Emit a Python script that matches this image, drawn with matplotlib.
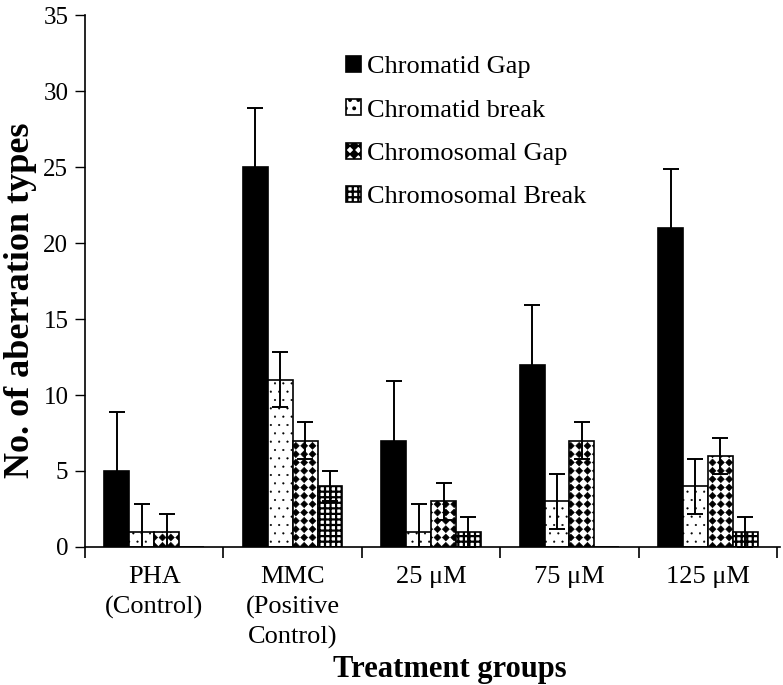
import matplotlib.pyplot as plt
import matplotlib.hatch as mhatch
from matplotlib.path import Path
import numpy as np

plt.rcParams['font.family'] = ['Liberation Serif', 'DejaVu Serif']
plt.rcParams['hatch.linewidth'] = 1.0


# filled diamonds on a square grid, used in place of the 'O' hatch
class Diamonds(mhatch.HatchPatternBase):
    size = 0.42

    def __init__(self, hatch, density):
        self.n = hatch.count('O') * density
        self.num_vertices = self.n * self.n * 5

    def set_vertices_and_codes(self, vertices, codes):
        n = self.n
        r = self.size / n
        shape = np.array([[0, r], [-r, 0], [0, -r], [r, 0], [0, r]])
        k = 0
        for i in range(n):
            for j in range(n):
                c = np.array([(i + 0.5) / n, (j + 0.5) / n])
                vertices[k:k + 5] = shape + c
                codes[k:k + 5] = [Path.MOVETO, Path.LINETO, Path.LINETO,
                                  Path.LINETO, Path.CLOSEPOLY]
                k += 5


mhatch._hatch_types = [Diamonds if t is mhatch.LargeCircles else t
                       for t in mhatch._hatch_types]

groups = ['PHA\n(Control)', 'MMC\n(Positive\nControl)', '25 μM', '75 μM', '125 μM']
series = ['Chromatid Gap', 'Chromatid break', 'Chromosomal Gap', 'Chromosomal Break']

chromatid_gap = [5, 25, 7, 12, 21]
chromatid_gap_err = [3.9, 3.9, 3.9, 3.9, 3.9]
chromatid_break = [1, 11, 1, 3, 4]
chromatid_break_err = [1.8, 1.8, 1.8, 1.8, 1.8]
chromosomal_gap = [1, 7, 3, 7, 6]
chromosomal_gap_err = [1.2, 1.2, 1.2, 1.2, 1.2]
chromosomal_break = [0, 4, 1, 0, 1]
chromosomal_break_err = [0, 1.0, 1.0, 0, 1.0]

values = [chromatid_gap, chromatid_break, chromosomal_gap, chromosomal_break]
errors = [chromatid_gap_err, chromatid_break_err, chromosomal_gap_err, chromosomal_break_err]
styles = [
    dict(color='black', hatch=None, hlw=1.0),
    dict(color='white', hatch='..', hlw=0.3),
    dict(color='white', hatch='OO', hlw=0.4),
    dict(color='white', hatch='+++', hlw=1.6),
]

fig = plt.figure(figsize=(7.83, 6.85), dpi=100)
ax = fig.add_axes([0.1086, 0.2015, 0.8874, 0.7765])

x = np.arange(len(groups))
w = 0.18
for i, (vals, errs, st) in enumerate(zip(values, errors, styles)):
    pos = x + (i - 1.5) * w
    errs = [e if e > 0 else np.nan for e in errs]
    plt.rcParams['hatch.linewidth'] = st['hlw']
    bars = ax.bar(pos, vals, w, color=st['color'], edgecolor='black', linewidth=1.2,
                  hatch=st['hatch'], label=series[i], zorder=2)
    for p in bars:
        if hasattr(p, 'set_hatch_linewidth'):
            p.set_hatch_linewidth(st['hlw'])
    ax.errorbar(pos, vals, yerr=errs, fmt='none', ecolor='black',
                elinewidth=1.4, capsize=6, capthick=1.4, zorder=3)

ax.set_xlim(-0.5, len(groups) - 0.5 + 0.02)
ax.set_ylim(0, 35)
ax.set_yticks(np.arange(0, 36, 5))
ax.set_xticks(x)
ax.set_xticklabels(groups, fontsize=19, va='top', linespacing=1.4)
ax.set_xticks(np.arange(-0.5, len(groups), 1.0), minor=True)
ax.tick_params(axis='x', which='major', length=0, pad=14)
ax.tick_params(axis='x', which='minor', length=8, width=1.2, direction='out')
ax.tick_params(axis='y', labelsize=18, length=7, width=1.0, pad=5)
for s in ['top', 'right']:
    ax.spines[s].set_visible(False)
ax.spines['left'].set_linewidth(1.2)
ax.spines['bottom'].set_linewidth(1.2)

ax.set_xlabel('Treatment groups', fontsize=22, fontweight='bold')
ax.xaxis.set_label_coords((450 - 85) / 695, -(655 - 547) / 532)
ax.set_ylabel('No. of aberration types', fontsize=26, fontweight='bold')
ax.yaxis.set_label_coords(-(85 - 37) / 695, 0.464)

ax.legend(loc='upper left', bbox_to_anchor=(346 / 783, 1 - 56 / 685),
          bbox_transform=fig.transFigure, frameon=False, borderpad=0,
          borderaxespad=0, fontsize=19, handlelength=0.55, handleheight=0.55,
          handletextpad=0.25, labelspacing=0.8)

fig.savefig('out.png', dpi=100)
